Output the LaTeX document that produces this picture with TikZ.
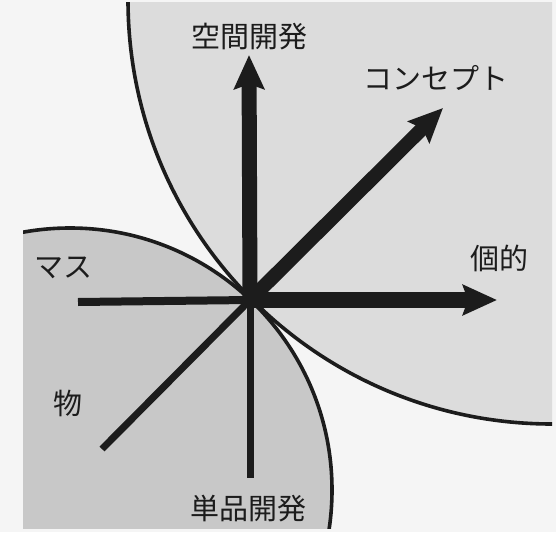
\documentclass[tikz,border=0pt]{standalone}
\usepackage{fontspec}
\newfontfamily\jp{Noto Sans CJK JP}
\usetikzlibrary{arrows.meta}
\definecolor{paper}{HTML}{F5F5F5}
\definecolor{lightshade}{HTML}{DCDCDC}
\definecolor{darkshade}{HTML}{C8C8C8}
\definecolor{ink}{HTML}{1C1C1C}
\tikzset{
  bigarrow/.style={draw=ink, line width=15pt, -{Stealth[length=34pt,width=30pt,inset=5pt]}},
  thinray/.style={draw=ink, line width=7pt},
  rim/.style={draw=ink, line width=3.6pt},
  lbl/.style={font=\jp\fontsize{29pt}{30pt}\selectfont, text=ink, inner sep=0pt}
}
\begin{document}
\begin{tikzpicture}[x=1pt,y=-1pt]
  \useasboundingbox (0,0) rectangle (556,532);
  \fill[paper] (0,0) rectangle (556,532);
  % large light region (top right)
  \begin{scope}
    \clip (0,3) rectangle (552,532);
    \fill[lightshade] (552,0) circle[radius=424];
    \draw[rim] (552,0) circle[radius=424];
  \end{scope}
  % small darker region (bottom left)
  \begin{scope}
    \clip (23,0) rectangle (556,528);
    \fill[darkshade] (70,490) circle[radius=262];
    \draw[rim] (70,490) circle[radius=262];
  \end{scope}
  % coordinates
  \coordinate (O) at (250,300);
  \coordinate (up) at (249,55);
  \coordinate (ne) at (443,108);
  \coordinate (east) at (497,300);
  \coordinate (west) at (78,302);
  \coordinate (south) at (250,478);
  \coordinate (sw) at (102,449);
  % thin rays
  \draw[thinray, line width=8pt] (O) -- (west);
  \draw[thinray] (O) -- (south);
  \draw[thinray] (O) -- (sw);
  % thick arrows
  \draw[bigarrow] (O) -- (up);
  \draw[bigarrow, line width=14pt] (O) -- (ne);
  \draw[bigarrow, line width=16pt] (O) -- (east);
  % labels
  \node[lbl] (kukan) at (249,37) {空間開発};
  \node[lbl] (concept) at (436,78) {コンセプト};
  \node[lbl] (koteki) at (499,258) {個的};
  \node[lbl] (masu) at (63,268) {マス};
  \node[lbl] (mono) at (68,403) {物};
  \node[lbl] (tanpin) at (248,509) {単品開発};
\end{tikzpicture}
\end{document}
